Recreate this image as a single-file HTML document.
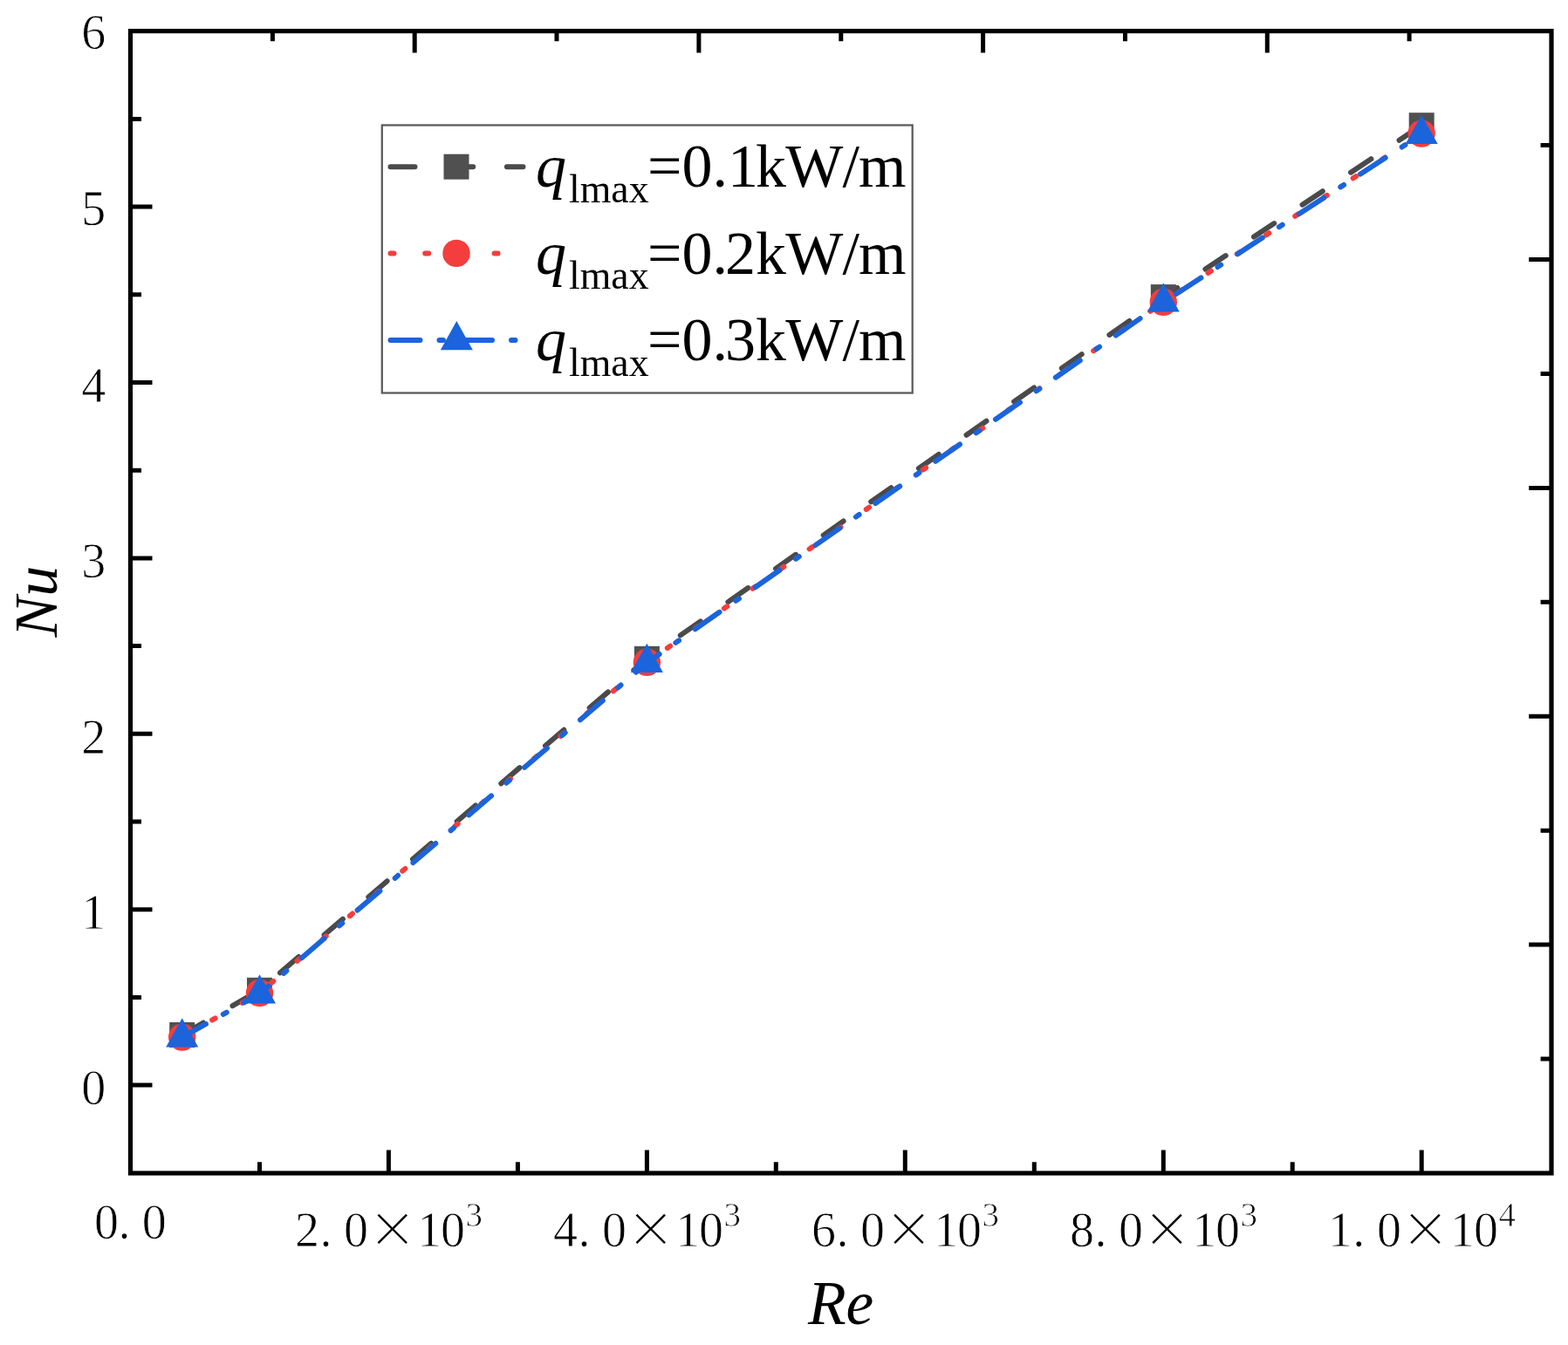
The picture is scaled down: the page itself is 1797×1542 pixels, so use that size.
<!DOCTYPE html><html><head><meta charset="utf-8"><title>Nu vs Re</title><style>
html,body{margin:0;padding:0;background:#fff;}svg{display:block;filter:blur(0.45px);}
.t{font-family:"Liberation Serif","Noto Serif CJK SC",serif;fill:#000;}.tl{stroke:#fff;stroke-width:0.8px;}.cjk{font-family:"Noto Serif CJK SC","Liberation Serif",serif;stroke:none;}
</style></head><body>
<svg width="1797" height="1542" viewBox="0 0 1797 1542">
<rect x="0" y="0" width="1797" height="1542" fill="#fff"/>
<polyline points="208.7,1186.5 297.5,1135.3 741.4,755.3 1333.3,340.6 1629.2,143.7" stroke="#4a4a4a" fill="none" stroke-width="6.0" stroke-linecap="round" stroke-linejoin="round" stroke-dasharray="28 38.7"/>
<rect x="194.2" y="1172.0" width="29.0" height="29.0" fill="#505050"/>
<rect x="283.0" y="1120.8" width="29.0" height="29.0" fill="#505050"/>
<rect x="726.9" y="740.8" width="29.0" height="29.0" fill="#505050"/>
<rect x="1318.8" y="326.1" width="29.0" height="29.0" fill="#505050"/>
<rect x="1614.7" y="129.2" width="29.0" height="29.0" fill="#505050"/>
<polyline points="208.7,1189.1 297.5,1138.4 741.4,759.3 1333.3,346.3 1629.2,153.1" stroke="#f43d3d" fill="none" stroke-width="6.0" stroke-linecap="round" stroke-linejoin="round" stroke-dasharray="4 35.7"/>
<circle cx="208.7" cy="1189.1" r="15.7" fill="#f43d3d"/>
<circle cx="297.5" cy="1138.4" r="15.7" fill="#f43d3d"/>
<circle cx="741.4" cy="759.3" r="15.7" fill="#f43d3d"/>
<circle cx="1333.3" cy="346.3" r="15.7" fill="#f43d3d"/>
<circle cx="1629.2" cy="153.1" r="15.7" fill="#f43d3d"/>
<polyline points="208.7,1189.3 297.5,1139.4 741.4,759.9 1333.3,346.5 1629.2,153.9" stroke="#1b64dc" fill="none" stroke-width="6.0" stroke-linecap="round" stroke-linejoin="round" stroke-dasharray="34 22.75 4.5 22.75" stroke-dashoffset="2.7"/>
<polygon points="208.7,1167.2 190.2,1200.4 227.2,1200.4" fill="#1b64dc"/>
<polygon points="297.5,1117.2 279.0,1150.4 316.0,1150.4" fill="#1b64dc"/>
<polygon points="741.4,737.8 722.9,771.0 759.9,771.0" fill="#1b64dc"/>
<polygon points="1333.3,324.3 1314.8,357.5 1351.8,357.5" fill="#1b64dc"/>
<polygon points="1629.2,131.8 1610.7,165.0 1647.7,165.0" fill="#1b64dc"/>
<path d="M149.5 1244.1H174.5 M149.5 1042.7H174.5 M149.5 841.3H174.5 M149.5 639.9H174.5 M149.5 438.5H174.5 M149.5 237.1H174.5 M149.5 1143.4H162 M149.5 942.0H162 M149.5 740.6H162 M149.5 539.2H162 M149.5 337.8H162 M149.5 136.4H162 M297.5 1345.0V1332.3 M445.4 1345.0V1318.5 M593.4 1345.0V1332.3 M741.4 1345.0V1318.5 M889.3 1345.0V1332.3 M1037.3 1345.0V1318.5 M1185.3 1345.0V1332.3 M1333.3 1345.0V1318.5 M1481.2 1345.0V1332.3 M1629.2 1345.0V1318.5 M312.4 35.6V47.3 M475.2 35.6V60.6 M638.0 35.6V47.3 M800.9 35.6V60.6 M963.8 35.6V47.3 M1126.6 35.6V60.6 M1289.5 35.6V47.3 M1452.3 35.6V60.6 M1615.1 35.6V47.3 M1778.0 166.5H1765.6 M1778.0 297.5H1752.2 M1778.0 428.4H1765.6 M1778.0 559.4H1752.2 M1778.0 690.3H1765.6 M1778.0 821.2H1752.2 M1778.0 952.2H1765.6 M1778.0 1083.1H1752.2 M1778.0 1214.1H1765.6" stroke="#000" stroke-width="5" fill="none"/>
<rect x="149.5" y="35.6" width="1628.5" height="1309.4" fill="none" stroke="#000" stroke-width="5.2"/>
<text class="t tl" x="93.3" y="1266.4" font-size="56">0</text>
<text class="t tl" x="93.3" y="1065.0" font-size="56">1</text>
<text class="t tl" x="93.3" y="863.6" font-size="56">2</text>
<text class="t tl" x="93.3" y="662.2" font-size="56">3</text>
<text class="t tl" x="93.3" y="460.8" font-size="56">4</text>
<text class="t tl" x="93.3" y="258.2" font-size="56">5</text>
<text class="t tl" x="93.3" y="56.0" font-size="56">6</text>
<text class="t tl" font-size="56" y="1420.3" x="108.1 135.6 162.7">0.0</text>
<text class="t tl" font-size="56" y="1428.8"><tspan x="338.1 366.5 394.1">2.0</tspan><tspan x="421.7" class="cjk">×</tspan><tspan x="478.3 505.1">10</tspan><tspan x="533.6" y="1406.2" font-size="39">3</tspan></text>
<text class="t tl" font-size="56" y="1428.8"><tspan x="634.1 662.5 690.1">4.0</tspan><tspan x="717.7" class="cjk">×</tspan><tspan x="774.3 801.1">10</tspan><tspan x="829.6" y="1406.2" font-size="39">3</tspan></text>
<text class="t tl" font-size="56" y="1428.8"><tspan x="930.0 958.4 986.0">6.0</tspan><tspan x="1013.6" class="cjk">×</tspan><tspan x="1070.2 1097.0">10</tspan><tspan x="1125.5" y="1406.2" font-size="39">3</tspan></text>
<text class="t tl" font-size="56" y="1428.8"><tspan x="1226.0 1254.4 1282.0">8.0</tspan><tspan x="1309.6" class="cjk">×</tspan><tspan x="1366.2 1393.0">10</tspan><tspan x="1421.5" y="1406.2" font-size="39">3</tspan></text>
<text class="t tl" font-size="56" y="1428.8"><tspan x="1521.9 1550.3 1577.9">1.0</tspan><tspan x="1605.5" class="cjk">×</tspan><tspan x="1662.1 1688.9">10</tspan><tspan x="1717.4" y="1406.2" font-size="39">4</tspan></text>
<text class="t" font-size="71.5" font-style="italic" x="963.6" y="1517.8" text-anchor="middle">Re</text>
<text class="t" font-size="70" font-style="italic" transform="translate(65.3 689.6) rotate(-90)" text-anchor="middle">Nu</text>
<rect x="437.8" y="143.5" width="607.9" height="307" fill="#fff" stroke="#5c5c5c" stroke-width="2.3"/>
<path d="M447.5 191.2H599.5" stroke="#4a4a4a" fill="none" stroke-width="6.0" stroke-linecap="round" stroke-linejoin="round" stroke-dasharray="28 38.7"/>
<rect x="508.5" y="176.7" width="29.0" height="29.0" fill="#505050"/>
<text class="t" font-size="70" y="214.2"><tspan x="614.0" font-style="italic">q</tspan><tspan font-size="45.8" dy="17.7" x="652.0">lmax</tspan><tspan dy="-17.7" x="742.0">=0.</tspan><tspan dx="0">1</tspan><tspan dx="-3" letter-spacing="-0.8">kW/m</tspan></text>
<path d="M447.5 290.4H599.5" stroke="#f43d3d" fill="none" stroke-width="6.0" stroke-linecap="round" stroke-linejoin="round" stroke-dasharray="4 35.7"/>
<circle cx="523.0" cy="290.4" r="15.7" fill="#f43d3d"/>
<text class="t" font-size="70" y="313.7"><tspan x="614.0" font-style="italic">q</tspan><tspan font-size="45.8" dy="17.7" x="652.0">lmax</tspan><tspan dy="-17.7" x="742.0">=0.</tspan><tspan dx="-3">2</tspan><tspan dx="0" letter-spacing="-0.8">kW/m</tspan></text>
<path d="M447.5 389.9H599.5" stroke="#1b64dc" fill="none" stroke-width="6.0" stroke-linecap="round" stroke-linejoin="round" stroke-dasharray="34 22 4.5 22"/>
<polygon points="523.3,368.1 504.8,401.3 541.8,401.3" fill="#1b64dc"/>
<text class="t" font-size="70" y="412.8"><tspan x="614.0" font-style="italic">q</tspan><tspan font-size="45.8" dy="17.7" x="652.0">lmax</tspan><tspan dy="-17.7" x="742.0">=0.</tspan><tspan dx="-3">3</tspan><tspan dx="0" letter-spacing="-0.8">kW/m</tspan></text>
</svg></body></html>
